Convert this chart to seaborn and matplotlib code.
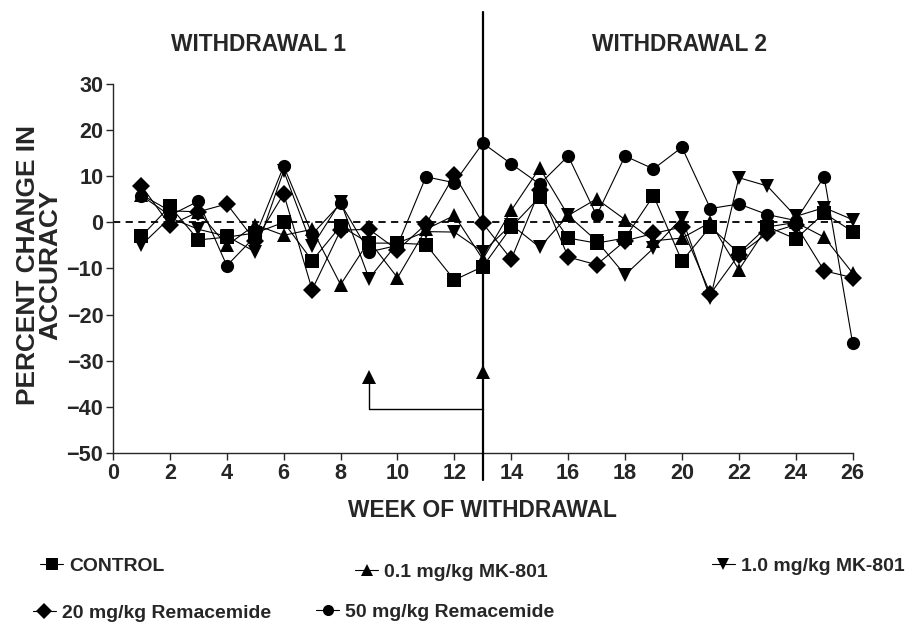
import numpy as np
import matplotlib
matplotlib.use("Agg")
import matplotlib.pyplot as plt
from matplotlib.lines import Line2D
from matplotlib import font_manager
import pandas as pd
import seaborn as sns

# weeks of withdrawal
weeks = list(range(1, 27))

# percent change in accuracy
control = [-3, 3.5, -3.8, -3.2, -2.3, 0, -8.3, -0.8, -4.5, -4.5, -4.8, -12.5, -9.6,
           -1, 5.5, -3.4, -4.5, -3.4, 5.8, -8.4, -0.9, -6.7, -0.9, -3.6, 2, -2]
mk801_01 = [6, 2.5, 2.3, -5, -0.5, -2.8, -1.5, -13.5, -4, -12, -1.5, 1.5, -8,
            2.6, 11.8, 1.5, 5.1, 0.6, -4, -3.4, 0, -10.3, -1, 0, -3.2, -11]
mk801_10 = [-4.9, 1, -1.5, -3, -6.4, 11.2, -5.2, 4.5, -12.2, -4.5, -2, -2.1, -6.4,
            -0.5, -5.4, 1.5, -4, -11.4, -5.6, 1, -16.5, 9.7, 7.9, 1.3, 3.2, 0.6]
rem_20 = [7.9, -0.6, 2.3, 4, -4, 6.2, -14.6, -1.7, -1.5, -6, -0.4, 10.3, -0.2,
          -8, 7, -7.5, -9.2, -4, -2.4, -1, -15.5, -7, -2.4, -0.5, -10.5, -12]
rem_50 = [5.8, 1.5, 4.6, -9.4, -3, 12.2, -2.6, 4.1, -6.4, -5, 9.9, 8.6, 17.2,
          12.7, 8.3, 14.4, 1.5, 14.4, 11.6, 16.3, 3, 4, 1.7, 0.4, 9.9, -26.2]

groups = ["CONTROL", "0.1 mg/kg MK-801", "1.0 mg/kg MK-801",
          "20 mg/kg Remacemide", "50 mg/kg Remacemide"]
marker_map = dict(zip(groups, ["s", "^", "v", "D", "o"]))

# arrow annotation below the curves
arrow_x = [9, 9, 13]
arrow_y = [-33.5, -40.5, -40.5]
arrow_tips_x = [9, 13]
arrow_tips_y = [-33.5, -32.5]

df = pd.concat([
    pd.DataFrame({"week": weeks, "change": vals, "group": g})
    for g, vals in zip(groups, [control, mk801_01, mk801_10, rem_20, rem_50])
])

sns.set_style("ticks")
# the original uses a narrow bold face; shrink sizes if it is not there
names = {f.name for f in font_manager.fontManager.ttflist}
if "Liberation Sans Narrow" in names:
    plt.rcParams["font.family"] = ["Liberation Sans Narrow", "DejaVu Sans"]
    k = 1.0
else:
    plt.rcParams["font.family"] = ["Liberation Sans", "DejaVu Sans"]
    k = 0.82
plt.rcParams["font.weight"] = "bold"

fig = plt.figure(figsize=(9.08, 6.28), dpi=100)
ax = fig.add_axes([0.1245, 0.279, 0.8145, 0.587])

ax.plot([0, 26], [0, 0], color="black", lw=1.3, ls=(0, (4, 3)), zorder=1)

sns.lineplot(data=df, x="week", y="change", style="group", markers=marker_map,
             dashes=False, color="black", markersize=9.5, linewidth=0.8,
             markeredgewidth=0, legend=False, ax=ax, clip_on=False, zorder=3)

# vertical divider between withdrawal periods
ax.plot([13, 13], [45.7, -55.9], color="black", lw=1.6, clip_on=False, zorder=4)
ax.plot(arrow_x, arrow_y, color="black", lw=1.0, zorder=2)
ax.plot(arrow_tips_x, arrow_tips_y, ls="none", marker="^", color="black",
        markersize=9.5, markeredgewidth=0, zorder=4)

ax.set_xlim(0, 26)
ax.set_ylim(-50, 30)
ax.set_xticks(range(0, 27, 2))
ax.set_yticks(range(-50, 31, 10))
ax.tick_params(labelsize=19 * k, width=1, length=5, direction="out", pad=2)
for lab in ax.get_xticklabels() + ax.get_yticklabels():
    lab.set_fontweight("bold")
sns.despine(ax=ax)
for s in ["left", "bottom"]:
    ax.spines[s].set_linewidth(1)

ax.set_xlabel("WEEK OF WITHDRAWAL", fontsize=20 * k, fontweight="bold")
ax.xaxis.label.set_va("center")
ax.xaxis.set_label_coords(0.5, -0.156)
ax.set_ylabel("PERCENT CHANGE IN\nACCURACY", fontsize=23 * k, fontweight="bold",
              linespacing=0.95)
ax.yaxis.label.set_va("center")
ax.yaxis.set_label_coords(-0.1, 0.51)

ax.text(5.1, 38.5, "WITHDRAWAL 1", ha="center", va="center", fontsize=20 * k,
        fontweight="bold")
ax.text(19.9, 38.5, "WITHDRAWAL 2", ha="center", va="center", fontsize=20 * k,
        fontweight="bold")

# legend entries placed one by one like the original
legend_pos = [(0.044, 0.099), (0.391, 0.089), (0.784, 0.099),
              (0.036, 0.024), (0.348, 0.025)]
for g, pos in zip(groups, legend_pos):
    h = Line2D([], [], color="black", lw=0.8, marker=marker_map[g],
               markersize=8, markeredgewidth=0)
    fig.legend(handles=[h], labels=[g], loc="center left", bbox_to_anchor=pos,
               frameon=False, handlelength=1.2, handletextpad=0.3,
               borderpad=0, borderaxespad=0,
               prop={"weight": "bold", "size": 17 * k})

fig.savefig("out.png", dpi=100)
